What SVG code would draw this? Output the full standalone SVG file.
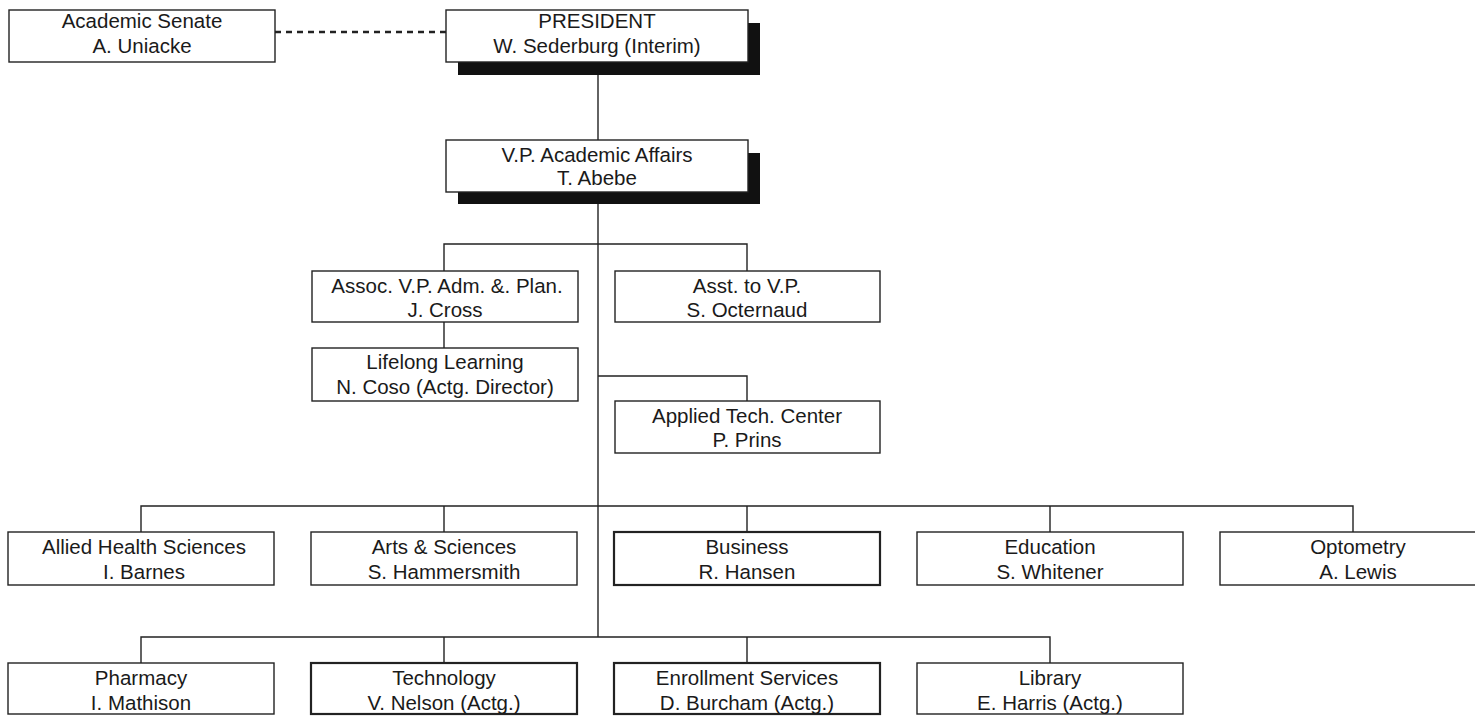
<svg xmlns="http://www.w3.org/2000/svg" width="1475" height="717" viewBox="0 0 1475 717">
<style>
.box{fill:#fff;stroke:#222;stroke-width:1.4}
.thick{stroke-width:2.2}
.shadow{fill:#111}
.t{font-family:"Liberation Sans",Arial,sans-serif;font-size:20.5px;fill:#1a1a1a;text-anchor:middle}
.ln{fill:none;stroke:#222;stroke-width:1.4}
.dash{fill:none;stroke:#222;stroke-width:2.6;stroke-dasharray:6 5}
</style>
<rect width="1475" height="717" fill="#fff"/>
<g id="connectors">
<line class="dash" x1="275" y1="32" x2="446" y2="32"/>
<path class="ln" d="M598 62V140"/>
<path class="ln" d="M598 192V637"/>
<path class="ln" d="M444 271V244H747V271"/>
<path class="ln" d="M444 322V348"/>
<path class="ln" d="M598 376H747V401"/>
<path class="ln" d="M141 532V506H1353V532M444 506V532M747 506V532M1050 506V532"/>
<path class="ln" d="M141 663V637H1050V663M444 637V663M747 637V663"/>
</g>
<g id="senate"><rect class="box" x="9" y="10" width="266" height="52"/><text class="t" x="142" y="28">Academic Senate</text><text class="t" x="142" y="53">A. Uniacke</text></g>
<g id="president"><rect class="shadow" x="458" y="23" width="302" height="52"/><rect class="box" x="446" y="10" width="302" height="52"/><text class="t" x="597" y="28">PRESIDENT</text><text class="t" x="597" y="53">W. Sederburg (Interim)</text></g>
<g id="vp"><rect class="shadow" x="458" y="153" width="302" height="51"/><rect class="box" x="446" y="140" width="302" height="52"/><text class="t" x="597" y="162">V.P. Academic Affairs</text><text class="t" x="597" y="185">T. Abebe</text></g>
<g id="assoc"><rect class="box" x="312" y="271" width="266" height="51"/><text class="t" x="447" y="293">Assoc. V.P. Adm. &amp;. Plan.</text><text class="t" x="445" y="317">J. Cross</text></g>
<g id="asst"><rect class="box" x="615" y="271" width="265" height="51"/><text class="t" x="747" y="293">Asst. to V.P.</text><text class="t" x="747" y="317">S. Octernaud</text></g>
<g id="lifelong"><rect class="box" x="312" y="348" width="266" height="53"/><text class="t" x="445" y="369">Lifelong Learning</text><text class="t" x="445" y="394">N. Coso (Actg. Director)</text></g>
<g id="applied"><rect class="box" x="615" y="401" width="265" height="52"/><text class="t" x="747" y="423">Applied Tech. Center</text><text class="t" x="747" y="447">P. Prins</text></g>
<g id="allied"><rect class="box" x="8" y="532" width="266" height="53"/><text class="t" x="144" y="554">Allied Health Sciences</text><text class="t" x="144" y="579">I. Barnes</text></g>
<g id="arts"><rect class="box" x="311" y="532" width="266" height="53"/><text class="t" x="444" y="554">Arts &amp; Sciences</text><text class="t" x="444" y="579">S. Hammersmith</text></g>
<g id="business"><rect class="box thick" x="614" y="532" width="266" height="53"/><text class="t" x="747" y="554">Business</text><text class="t" x="747" y="579">R. Hansen</text></g>
<g id="education"><rect class="box" x="917" y="532" width="266" height="53"/><text class="t" x="1050" y="554">Education</text><text class="t" x="1050" y="579">S. Whitener</text></g>
<g id="optometry"><rect class="box" x="1220" y="532" width="266" height="53"/><text class="t" x="1358" y="554">Optometry</text><text class="t" x="1358" y="579">A. Lewis</text></g>
<g id="pharmacy"><rect class="box" x="8" y="663" width="266" height="51"/><text class="t" x="141" y="685">Pharmacy</text><text class="t" x="141" y="710">I. Mathison</text></g>
<g id="technology"><rect class="box thick" x="311" y="663" width="266" height="51"/><text class="t" x="444" y="685">Technology</text><text class="t" x="444" y="710">V. Nelson (Actg.)</text></g>
<g id="enrollment"><rect class="box thick" x="614" y="663" width="266" height="51"/><text class="t" x="747" y="685">Enrollment Services</text><text class="t" x="747" y="710">D. Burcham (Actg.)</text></g>
<g id="library"><rect class="box" x="917" y="663" width="266" height="51"/><text class="t" x="1050" y="685">Library</text><text class="t" x="1050" y="710">E. Harris (Actg.)</text></g>
</svg>
